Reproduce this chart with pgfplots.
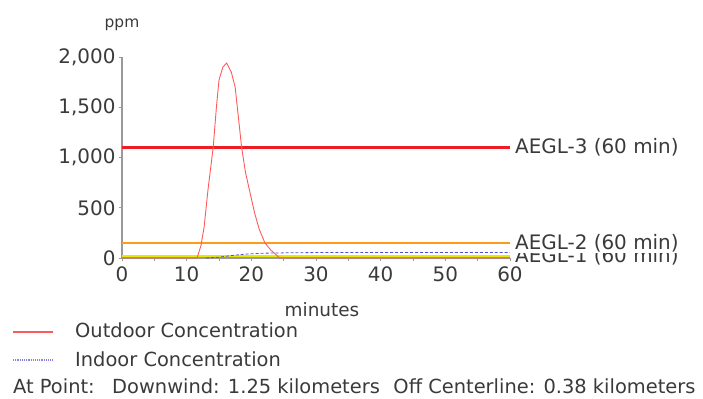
\documentclass[border=0pt]{standalone}
\usepackage{pgfplots}
\pgfplotsset{compat=1.18}
\usepackage{fontspec}
\setmainfont{DejaVu Sans}
\definecolor{txt}{HTML}{3A3A3A}
\definecolor{axgray}{HTML}{9A9A9A}
\definecolor{aeglthree}{HTML}{F01C24}
\definecolor{aegltwo}{HTML}{FF9A1A}
\definecolor{aeglone}{HTML}{E8E800}
\definecolor{outdoor}{HTML}{FF5A5A}
\definecolor{indoor}{HTML}{5050D0}
\begin{document}
\begin{tikzpicture}[x=1bp,y=1bp,font=\fontsize{19.5}{22}\selectfont, every node/.append style={text=txt}]
\useasboundingbox (0bp,0bp) rectangle (703bp,399bp);
\begin{axis}[
  at={(122bp,141bp)}, anchor=south west,
  scale only axis, width=388bp, height=201bp,
  xmin=0, xmax=60, ymin=0, ymax=2000,
  axis lines=left, axis line style={axgray, line width=1.2pt, -},
  xtick={0,10,...,60}, minor xtick={5,15,...,55},
  ytick={0,500,...,2000},
  tick style={axgray, line width=0.8pt},
  major tick length=3bp, minor tick length=3bp,
  tick align=outside,
  y tick label style={/pgf/number format/.cd, 1000 sep={,}},
  /pgf/number format/assume math mode=true,
  ticklabel style={font=\fontsize{20}{22}\selectfont, text=txt},
  xticklabel style={yshift=-2bp},
  clip=false,
]
\addplot[aeglone, line width=2.5pt] coordinates {(0,18) (60,18)};
\addplot[aegltwo, line width=2pt] coordinates {(0,150) (60,150)};
\addplot[aeglthree, line width=2.5pt] coordinates {(0,1100) (60,1100)};
\addplot[indoor, densely dashed, line width=0.8pt] coordinates {
 (13,0) (15,8) (17,25) (19,38) (22,48) (26,52) (30,54) (60,55)};
\addplot[outdoor, line width=0.9pt] coordinates {
 (0,0) (11.6,0) (12.2,120) (12.7,310) (13.3,680) (14.1,1100) (14.6,1500) (15.0,1770)
 (15.6,1900) (16.2,1940) (16.9,1850) (17.5,1700) (18.0,1400) (18.5,1100) (19.1,850) (19.8,650)
 (20.5,450) (21.2,290) (22.1,150) (23.0,80) (24.4,0) (60,0)};
\node[anchor=west, fill=white, inner sep=1bp, xshift=4bp, text=txt, font=\fontsize{20}{22}\selectfont] at (axis cs:60,20) {AEGL-1 (60 min)};
\node[anchor=west, fill=white, inner sep=1bp, xshift=4bp, text=txt, font=\fontsize{20}{22}\selectfont] at (axis cs:60,150) {AEGL-2 (60 min)};
\node[anchor=west, inner sep=1bp, xshift=4bp, text=txt, font=\fontsize{20}{22}\selectfont] at (axis cs:60,1100) {AEGL-3 (60 min)};
\end{axis}
\node[anchor=base, text=txt] at (122bp,371bp) {\fontsize{15.5}{17}\selectfont ppm};
\node[anchor=base, text=txt] at (322bp,82bp) {\fontsize{18.5}{20}\selectfont minutes};
\draw[outdoor, line width=2pt] (13bp,67bp) -- (53bp,67bp);
\node[anchor=base west, inner sep=0pt, text=txt] at (75bp,61bp) {Outdoor Concentration};
\draw[indoor!70, densely dotted, line width=1.2pt] (13bp,39bp) -- (53bp,39bp);
\node[anchor=base west, inner sep=0pt, text=txt] at (75bp,33bp) {Indoor Concentration};
\node[anchor=base west, inner sep=0pt, text=txt] at (13bp,6bp) {At Point:\hspace{0.9em}Downwind: 1.25 kilometers\hspace{0.7em}Off Centerline: 0.38 kilometers};
\end{tikzpicture}
\end{document}
